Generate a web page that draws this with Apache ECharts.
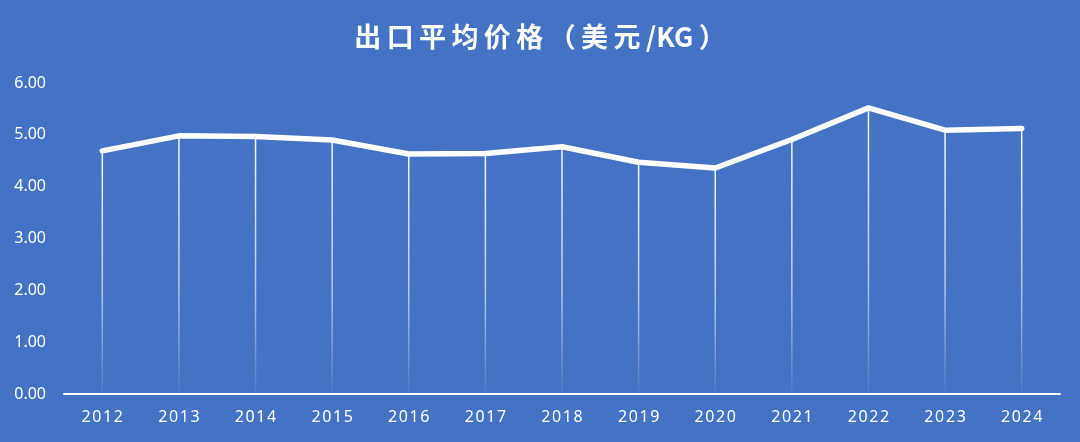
<!DOCTYPE html>
<html>
<head>
<meta charset="utf-8">
<script src="https://cdn.jsdelivr.net/npm/echarts@6/dist/echarts.min.js"></script>
<style>
html,body{margin:0;padding:0;background:#4472C4;}
#c{width:1080px;height:442px;}
</style>
</head>
<body>
<div id="c"></div>
<script>
const categories = ['2012','2013','2014','2015','2016','2017','2018','2019','2020','2021','2022','2023','2024'];
const values = [4.69, 4.98, 4.97, 4.90, 4.63, 4.64, 4.77, 4.47, 4.36, 4.91, 5.52, 5.09, 5.12];
const titleParts = ['出','口','平','均','价','格','（','美','元','/KG','）'];

const spaced = (s, sp) => s.split('').join(sp);

const chart = echarts.init(document.getElementById('c'));
chart.setOption({
  backgroundColor: '#4472C4',
  animation: false,
  title: {
    text: titleParts.join('\u2009'),
    left: 'center',
    top: 18,
    textStyle: {
      color: '#ffffff',
      fontSize: 27,
      fontWeight: 'bold',
      fontFamily: 'Noto Sans CJK SC'
    }
  },
  grid: { left: 64, right: 20, top: 83, bottom: 48 },
  xAxis: {
    type: 'category',
    data: categories,
    boundaryGap: true,
    axisLine: { lineStyle: { color: '#ffffff', width: 2 } },
    axisTick: { show: false },
    axisLabel: {
      color: '#ffffff',
      fontSize: 16,
      fontFamily: 'Noto Sans',
      margin: 15,
      formatter: v => spaced(v, '\u200A')
    },
    splitLine: { show: false }
  },
  yAxis: {
    type: 'value',
    min: 0,
    max: 6,
    interval: 1,
    axisLine: { show: false },
    axisTick: { show: false },
    splitLine: { show: false },
    axisLabel: {
      color: '#ffffff',
      fontSize: 16,
      fontFamily: 'Noto Sans',
      margin: 18,
      formatter: v => v.toFixed(2)
    }
  },
  series: [
    {
      type: 'bar',
      data: values,
      barWidth: 1.5,
      silent: true,
      itemStyle: {
        color: new echarts.graphic.LinearGradient(0, 0, 0, 1, [
          { offset: 0, color: 'rgba(255,255,255,0.95)' },
          { offset: 0.6, color: 'rgba(255,255,255,0.6)' },
          { offset: 1, color: 'rgba(255,255,255,0.05)' }
        ])
      },
      z: 1
    },
    {
      type: 'line',
      data: values,
      symbol: 'none',
      lineStyle: { color: '#ffffff', width: 5.5, cap: 'round', join: 'round' },
      z: 3
    }
  ]
});
</script>
</body>
</html>
